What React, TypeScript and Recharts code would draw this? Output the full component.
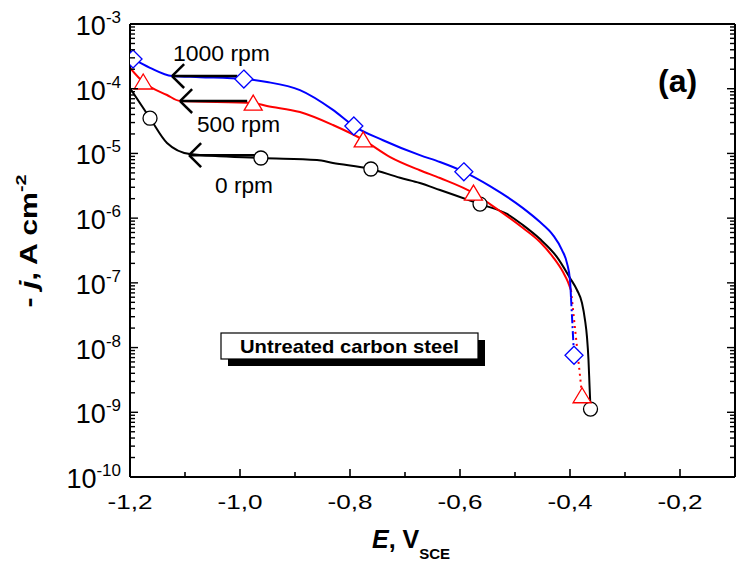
import React from 'react';
import {
  ComposedChart,
  Line,
  Scatter,
  XAxis,
  YAxis,
  ReferenceLine,
} from 'recharts';

// E (V vs SCE) and -j (A cm^-2)
const curve1000 = [
  { E: -1.1945, j: 2.88e-4 },
  { E: -1.1636, j: 2.1e-4 },
  { E: -1.1236, j: 1.57e-4 },
  { E: -1.0727, j: 1.51e-4 },
  { E: -0.993, j: 1.41e-4 },
  { E: -0.951, j: 1.27e-4 },
  { E: -0.891, j: 9.5e-5 },
  { E: -0.831, j: 4.7e-5 },
  { E: -0.793, j: 2.65e-5 },
  { E: -0.74, j: 1.6e-5 },
  { E: -0.673, j: 9.4e-6 },
  { E: -0.6364, j: 7.36e-6 },
  { E: -0.593, j: 5.2e-6 },
  { E: -0.5455, j: 3.13e-6 },
  { E: -0.4855, j: 1.43e-6 },
  { E: -0.4545, j: 8.7e-7 },
  { E: -0.4309, j: 5.48e-7 },
  { E: -0.4145, j: 3.21e-7 },
  { E: -0.4055, j: 2.02e-7 },
  { E: -0.4, j: 1.1e-7 },
  { E: -0.3982, j: 6e-8 },
];
const tail1000 = [
  { E: -0.3982, j: 6e-8 },
  { E: -0.3927, j: 7.6e-9 },
];
const marks1000 = [
  { E: -1.1945, j: 2.88e-4 },
  { E: -0.993, j: 1.41e-4 },
  { E: -0.793, j: 2.65e-5 },
  { E: -0.593, j: 5.2e-6 },
  { E: -0.3927, j: 7.6e-9 },
];

const curve500 = [
  { E: -1.2, j: 2.1e-4 },
  { E: -1.176, j: 1.27e-4 },
  { E: -1.1327, j: 8.0e-5 },
  { E: -1.109, j: 6.45e-5 },
  { E: -0.976, j: 6.0e-5 },
  { E: -0.951, j: 5.4e-5 },
  { E: -0.891, j: 4.36e-5 },
  { E: -0.831, j: 2.75e-5 },
  { E: -0.776, j: 1.62e-5 },
  { E: -0.727, j: 8.8e-6 },
  { E: -0.673, j: 5.5e-6 },
  { E: -0.6364, j: 4.17e-6 },
  { E: -0.5755, j: 2.44e-6 },
  { E: -0.5455, j: 1.65e-6 },
  { E: -0.4855, j: 7.03e-7 },
  { E: -0.4545, j: 4.27e-7 },
  { E: -0.4309, j: 2.5e-7 },
  { E: -0.4127, j: 1.47e-7 },
  { E: -0.4036, j: 1.03e-7 },
  { E: -0.3982, j: 7.7e-8 },
];
const tail500 = [
  { E: -0.3982, j: 7.7e-8 },
  { E: -0.378, j: 1.8e-9 },
];
const marks500 = [
  { E: -1.176, j: 1.27e-4 },
  { E: -0.976, j: 6.0e-5 },
  { E: -0.776, j: 1.62e-5 },
  { E: -0.5755, j: 2.44e-6 },
  { E: -0.378, j: 1.8e-9 },
];

const curve0 = [
  { E: -1.2, j: 1.02e-4 },
  { E: -1.1636, j: 3.5e-5 },
  { E: -1.1327, j: 1.45e-5 },
  { E: -1.091, j: 9.8e-6 },
  { E: -0.962, j: 8.5e-6 },
  { E: -0.86, j: 7.9e-6 },
  { E: -0.831, j: 7.1e-6 },
  { E: -0.762, j: 5.75e-6 },
  { E: -0.709, j: 4.2e-6 },
  { E: -0.673, j: 3.5e-6 },
  { E: -0.6364, j: 2.72e-6 },
  { E: -0.5636, j: 1.65e-6 },
  { E: -0.5145, j: 1.16e-6 },
  { E: -0.4855, j: 7.8e-7 },
  { E: -0.4545, j: 4.75e-7 },
  { E: -0.4236, j: 2.5e-7 },
  { E: -0.4, j: 1.19e-7 },
  { E: -0.3873, j: 7.76e-8 },
  { E: -0.3782, j: 4.88e-8 },
  { E: -0.3727, j: 2.66e-8 },
  { E: -0.3691, j: 1.45e-8 },
  { E: -0.3664, j: 6.5e-9 },
  { E: -0.3645, j: 2.6e-9 },
  { E: -0.3627, j: 1.12e-9 },
];
const marks0 = [
  { E: -1.1636, j: 3.5e-5 },
  { E: -0.962, j: 8.5e-6 },
  { E: -0.762, j: 5.75e-6 },
  { E: -0.5636, j: 1.65e-6 },
  { E: -0.3627, j: 1.12e-9 },
];

// arrows pointing to the left (tip, tail, level)
const arrows = [
  { tip: -1.1236, tail: -1.005, j: 1.57e-4 },
  { tip: -1.109, tail: -0.987, j: 6.45e-5 },
  { tip: -1.0927, tail: -0.9727, j: 9.4e-6 },
];

const xTicks = [-1.2, -1.1, -1.0, -0.9, -0.8, -0.7, -0.6, -0.5, -0.4, -0.3, -0.2];
const decades = [-10, -9, -8, -7, -6, -5, -4, -3];
const minorSteps = [2, 3, 4, 5, 6, 7, 8, 9];
const yTicks: number[] = [];
decades.forEach((d) => {
  yTicks.push(Math.pow(10, d));
  if (d < -3) minorSteps.forEach((m) => yTicks.push(m * Math.pow(10, d)));
});

const FONT = '"Liberation Sans", Arial, Helvetica, sans-serif';
const isMajorX = (v: number) => Math.round(Math.abs(v) * 10) % 2 === 0;
const isDecade = (v: number) => {
  const l = Math.log10(v);
  return Math.abs(l - Math.round(l)) < 1e-6;
};

const BottomTick = ({ x, y, payload }: any) => {
  const major = isMajorX(payload.value);
  return (
    <g>
      <line x1={x} y1={y} x2={x} y2={y - (major ? 8 : 5)} stroke="#000" strokeWidth={1.6} />
      {major && (
        <text x={x} y={y + 32} textAnchor="middle" fontSize={21} fontFamily={FONT} fill="#000"
          textLength={45} lengthAdjust="spacingAndGlyphs">
          {payload.value.toFixed(1).replace('.', ',')}
        </text>
      )}
    </g>
  );
};

const TopTick = ({ x, y, payload }: any) => {
  const major = isMajorX(payload.value);
  return <line x1={x} y1={y} x2={x} y2={y + (major ? 8 : 5)} stroke="#000" strokeWidth={1.6} />;
};

const LeftTick = ({ x, y, payload }: any) => {
  const major = isDecade(payload.value);
  const exp = Math.round(Math.log10(payload.value));
  return (
    <g>
      <line x1={x} y1={y} x2={x + (major ? 8 : 5)} y2={y} stroke="#000" strokeWidth={1.4} />
      {major && (
        <text x={x - 9} y={y + 11} textAnchor="end" fontFamily={FONT} fill="#000">
          <tspan fontSize={27}>10</tspan>
          <tspan fontSize={17} dy={-12}>{exp}</tspan>
        </text>
      )}
    </g>
  );
};

const RightTick = ({ x, y, payload }: any) => {
  const major = isDecade(payload.value);
  return <line x1={x} y1={y} x2={x - (major ? 8 : 5)} y2={y} stroke="#000" strokeWidth={1.4} />;
};

const Diamond = ({ cx, cy }: any) => (
  <path d={`M${cx},${cy - 9}L${cx + 9},${cy}L${cx},${cy + 9}L${cx - 9},${cy}Z`}
    fill="#fff" stroke="#0000ff" strokeWidth={1.3} />
);
const Triangle = ({ cx, cy }: any) => (
  <path d={`M${cx},${cy - 8}L${cx + 9},${cy + 7}L${cx - 9},${cy + 7}Z`}
    fill="#fff" stroke="#ff0000" strokeWidth={1.3} />
);
const Circle = ({ cx, cy }: any) => (
  <circle cx={cx} cy={cy} r={7} fill="#fff" stroke="#000" strokeWidth={1.3} />
);

const WING_DX = 0.022;
const WING_K = 1.53;

export default function App() {
  return (
    <div style={{ position: 'absolute', left: 0, top: 0, width: 736, height: 568, background: '#fff' }}>
      <ComposedChart width={736} height={568} margin={{ top: 0, right: 0, bottom: 0, left: 0 }}>
        <XAxis
          dataKey="E"
          type="number"
          domain={[-1.2, -0.1]}
          ticks={xTicks}
          interval={0}
          allowDataOverflow
          height={91}
          tickSize={0}
          tickMargin={0}
          tickLine={false}
          axisLine={{ stroke: '#000', strokeWidth: 2 }}
          tick={<BottomTick />}
        />
        <XAxis
          xAxisId="top"
          orientation="top"
          type="number"
          domain={[-1.2, -0.1]}
          ticks={xTicks}
          interval={0}
          allowDataOverflow
          height={24}
          tickSize={0}
          tickMargin={0}
          tickLine={false}
          axisLine={{ stroke: '#000', strokeWidth: 2 }}
          tick={<TopTick />}
        />
        <YAxis
          dataKey="j"
          type="number"
          scale="log"
          domain={[1e-10, 1e-3]}
          ticks={yTicks}
          interval={0}
          allowDataOverflow
          width={130}
          tickSize={0}
          tickMargin={0}
          tickLine={false}
          axisLine={{ stroke: '#000', strokeWidth: 2 }}
          tick={<LeftTick />}
        />
        <YAxis
          yAxisId="right"
          orientation="right"
          type="number"
          scale="log"
          domain={[1e-10, 1e-3]}
          ticks={yTicks}
          interval={0}
          allowDataOverflow
          width={1}
          tickSize={0}
          tickMargin={0}
          tickLine={false}
          axisLine={{ stroke: '#000', strokeWidth: 2 }}
          tick={<RightTick />}
        />

        <Line data={curve0} dataKey="j" type="monotone" stroke="#000" strokeWidth={2} dot={false} isAnimationActive={false} />
        <Line data={curve500} dataKey="j" type="monotone" stroke="#ff0000" strokeWidth={2} dot={false} isAnimationActive={false} />
        <Line data={tail500} dataKey="j" type="linear" stroke="#ff0000" strokeWidth={2} strokeDasharray="2 4" dot={false} isAnimationActive={false} />
        <Line data={curve1000} dataKey="j" type="monotone" stroke="#0000ff" strokeWidth={2} dot={false} isAnimationActive={false} />
        <Line data={tail1000} dataKey="j" type="linear" stroke="#0000ff" strokeWidth={2} strokeDasharray="9 3 2 3" dot={false} isAnimationActive={false} />

        {arrows.map((a, i) => (
          <ReferenceLine key={`a${i}`} segment={[{ x: a.tip, y: a.j }, { x: a.tail, y: a.j }]}
            stroke="#000" strokeWidth={2.5} ifOverflow="visible" />
        ))}
        {arrows.map((a, i) => (
          <ReferenceLine key={`u${i}`} segment={[{ x: a.tip, y: a.j }, { x: a.tip + WING_DX, y: a.j * WING_K }]}
            stroke="#000" strokeWidth={2.5} ifOverflow="visible" />
        ))}
        {arrows.map((a, i) => (
          <ReferenceLine key={`d${i}`} segment={[{ x: a.tip, y: a.j }, { x: a.tip + WING_DX, y: a.j / WING_K }]}
            stroke="#000" strokeWidth={2.5} ifOverflow="visible" />
        ))}

        <Scatter data={marks0} dataKey="j" shape={<Circle />} isAnimationActive={false} />
        <Scatter data={marks500} dataKey="j" shape={<Triangle />} isAnimationActive={false} />
        <Scatter data={marks1000} dataKey="j" shape={<Diamond />} isAnimationActive={false} />
      </ComposedChart>

      <svg width={736} height={568} style={{ position: 'absolute', left: 0, top: 0, pointerEvents: 'none' }}
        fontFamily={FONT}>
        <text x={173} y={61} fontSize={22} textLength={97} lengthAdjust="spacingAndGlyphs">1000 rpm</text>
        <text x={197} y={132} fontSize={22} textLength={83} lengthAdjust="spacingAndGlyphs">500 rpm</text>
        <text x={215} y={193} fontSize={22} textLength={58} lengthAdjust="spacingAndGlyphs">0 rpm</text>
        <text x={658} y={92} fontSize={32} fontWeight="bold">(a)</text>

        <rect x={228} y={340} width={257} height={26} fill="#000" />
        <rect x={221} y={333} width={257} height={26} fill="#fff" stroke="#000" strokeWidth={1.2} />
        <text x={349.5} y={353} fontSize={19} fontWeight="bold" textAnchor="middle"
          textLength={219} lengthAdjust="spacingAndGlyphs">Untreated carbon steel</text>

        <text transform="translate(37,241) rotate(-90)" textAnchor="middle" fontSize={23}
          fontWeight="bold" textLength={133} lengthAdjust="spacingAndGlyphs">
          <tspan>- </tspan>
          <tspan fontStyle="italic">j</tspan>
          <tspan>, A cm</tspan>
          <tspan fontSize={15} dy={-11}>-2</tspan>
        </text>

        <text x={372} y={548} fontSize={25} fontWeight="bold">
          <tspan fontStyle="italic">E</tspan>
          <tspan>, V</tspan>
          <tspan fontSize={15} dy={11}>SCE</tspan>
        </text>
      </svg>
    </div>
  );
}
